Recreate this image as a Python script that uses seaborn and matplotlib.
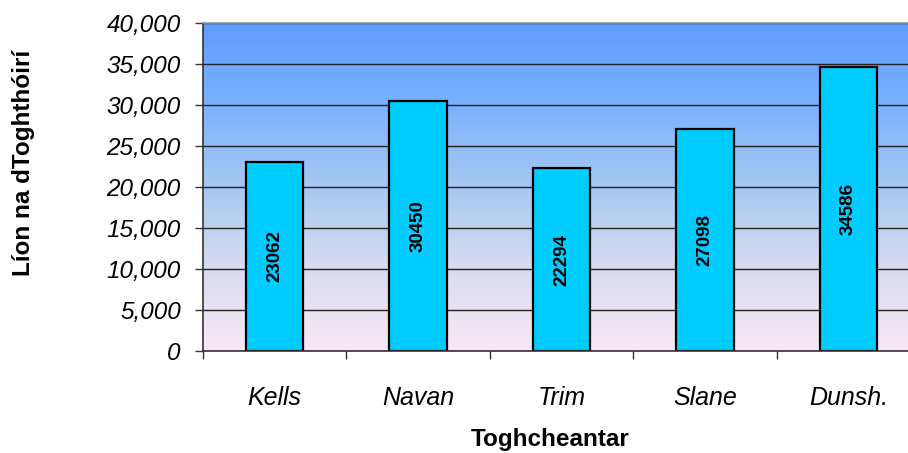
import numpy as np
import pandas as pd
import seaborn as sns
from matplotlib import pyplot as plt
from matplotlib.colors import LinearSegmentedColormap
from matplotlib.ticker import FuncFormatter, FixedLocator

areas = ["Kells", "Navan", "Trim", "Slane", "Dunsh."]
electors = [23062, 30450, 22294, 27098, 34586]
y_label = "Líon na dToghthóirí"
x_label = "Toghcheantar"

df = pd.DataFrame({"area": areas, "electors": electors})

sns.set_style("white")
plt.rcParams["font.family"] = ["Liberation Sans", "DejaVu Sans"]
plt.rcParams["text.color"] = "black"
plt.rcParams["axes.labelcolor"] = "black"
plt.rcParams["xtick.labelcolor"] = "black"
plt.rcParams["ytick.labelcolor"] = "black"

fig = plt.figure(figsize=(9.08, 4.53), dpi=100)
# plot area runs a little past the right edge of the picture, like the original
ax = fig.add_axes([203 / 908, 1 - 351 / 453, 717 / 908, 328 / 453])

# background gradient: blue at the top fading into pale pink at the bottom
grad = LinearSegmentedColormap.from_list(
    "bg", ["#F8E8F6", "#D8DCF0", "#A6C8F2", "#7AB2FF", "#5E9CFF"])
ax.imshow(np.linspace(0, 1, 256).reshape(-1, 1), cmap=grad, origin="lower",
          extent=[0, 1, 0, 1], transform=ax.transAxes, aspect="auto", zorder=0)

sns.barplot(data=df, x="area", y="electors", color="#00CCFF", edgecolor="black",
            linewidth=1.6, width=0.4, saturation=1, ax=ax, zorder=2)

# value labels, rotated, in the middle of each bar
for i, v in enumerate(electors):
    ax.text(i, v / 2, str(v), rotation=90, ha="center", va="center",
            fontsize=13.5, fontweight="bold", color="black", zorder=3)

ax.set_xlim(-0.5, len(areas) - 0.5)
ax.set_ylim(0, 40000)
ax.set_yticks(range(0, 40001, 5000))
ax.yaxis.set_major_formatter(FuncFormatter(lambda v, p: f"{int(v):,}"))
ax.grid(axis="y", color="#222222", linewidth=1.0, zorder=1)
ax.grid(axis="x", visible=False)
ax.set_axisbelow(True)

# category ticks between the bars, labels centred under them
ax.xaxis.set_minor_locator(FixedLocator(np.arange(-0.5, len(areas), 1.0)))
ax.tick_params(axis="x", which="major", length=0, pad=25, labelsize=18)
ax.tick_params(axis="x", which="minor", length=6, width=1, color="#333333", bottom=True)
ax.tick_params(axis="y", which="major", length=6, width=1, color="#333333", left=True,
               pad=10, labelsize=17.5)
for lab in ax.get_xticklabels() + ax.get_yticklabels():
    lab.set_fontstyle("italic")

for side in ["left", "bottom"]:
    ax.spines[side].set_color("#333333")
    ax.spines[side].set_linewidth(1.2)
ax.spines["top"].set_color("#9a9a9a")
ax.spines["top"].set_linewidth(1.2)
ax.spines["right"].set_visible(False)

ax.set_xlabel(x_label, fontsize=17.5, fontweight="bold")
ax.set_ylabel(y_label, fontsize=17.5, fontweight="bold")
ax.xaxis.set_label_coords((550 - 203) / 717, -(428 - 351) / 328)
ax.yaxis.set_label_coords(-(203 - 35) / 717, (351 - 163) / 328)

fig.savefig("out.png", dpi=100)
